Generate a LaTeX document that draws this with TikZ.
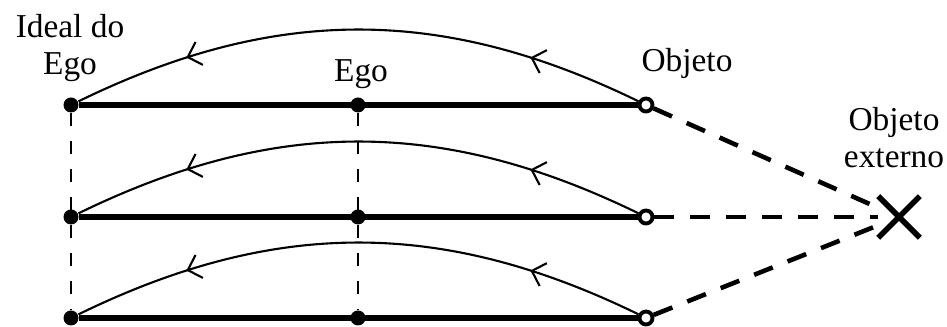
\documentclass[tikz,border=0pt]{standalone}
\usepackage{fontspec}
\setmainfont{Liberation Serif}
\usetikzlibrary{arrows.meta,decorations.markings,shapes.misc}

\begin{document}
\begin{tikzpicture}[font=\fontsize{9.5}{10.6}\selectfont,
  dot/.style={circle, fill=black, inner sep=0pt, minimum size=1.5mm},
  odot/.style={circle, draw=black, fill=white, line width=1.1pt,
               inner sep=0pt, minimum size=1.3mm},
  bar/.style={line width=1.5pt},
  flow/.style={line width=0.6pt, postaction={decorate},
    decoration={markings,
      mark=at position 0.2 with {\arrow{Straight Barb[length=1.2mm,width=2.4mm]}},
      mark=at position 0.8 with {\arrow{Straight Barb[length=1.2mm,width=2.4mm]}}}},
  link/.style={line width=0.6pt, dash pattern=on 0.13cm off 0.15cm},
  ray/.style={line width=1.3pt, dash pattern=on 0.2cm off 0.16cm}]
\useasboundingbox (0,0) rectangle (9.47,3.27);
% --- three rows: ideal, ego, object ---
\foreach \r/\y in {1/2.22, 2/1.10, 3/0.09} {
  \node[dot] (i\r) at (0.71,\y) {};
  \node[dot] (e\r) at (3.58,\y) {};
  \node[odot] (o\r) at (6.46,\y) {};
  \draw[bar] (i\r) -- (o\r);
  \draw[flow] (o\r) to[bend right=26] (i\r);
}
\draw[link] (i1) -- (i3);
\draw[link] (e1) -- (e3);
% --- external object ---
\node[cross out, draw, line width=1.6pt, inner sep=0pt, minimum size=3.6mm]
  (x) at (8.99,1.10) {};
\draw[ray] (o1) -- (x);
\draw[ray] (o2) -- (x);
\draw[ray] (o3) -- (x);
% --- labels ---
\node[align=center, anchor=base] (lideal) at (0.70,2.52) {Ideal do\\Ego};
\node[anchor=base] (lego) at (3.61,2.45) {Ego};
\node[anchor=base] (lobj) at (6.87,2.55) {Objeto};
\node[align=center, anchor=base] (lext) at (8.94,1.59) {Objeto\\externo};
\end{tikzpicture}
\end{document}
